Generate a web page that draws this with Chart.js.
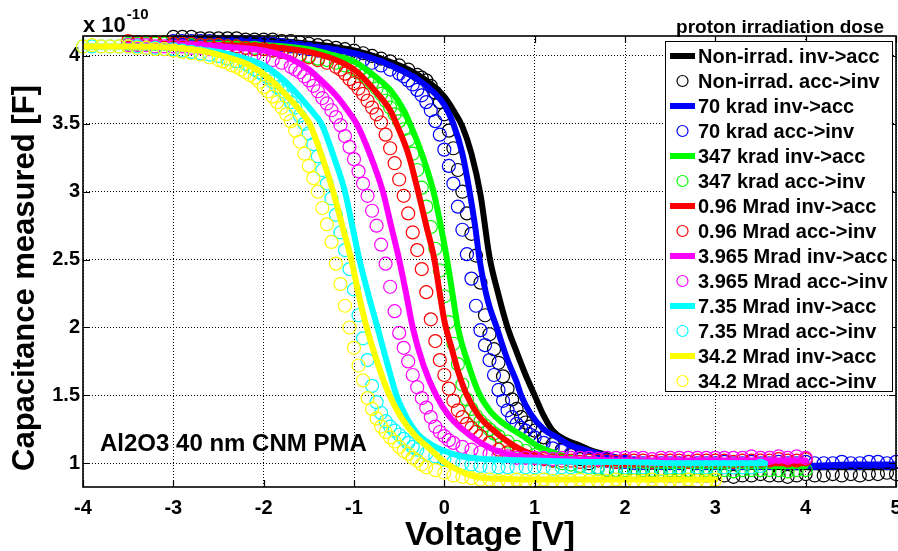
<!DOCTYPE html>
<html><head><meta charset="utf-8">
<script src="https://cdn.jsdelivr.net/npm/chart.js@4.4.1/dist/chart.umd.min.js"></script>
<style>html,body{margin:0;padding:0;background:#fff;}canvas{display:block;}</style>
</head><body>
<canvas id="c" width="898" height="551"></canvas>
<script>
// ---- tick labels ----
const xTicks = [-4,-3,-2,-1,0,1,2,3,4,5];
const yTicks = [1,1.5,2,2.5,3,3.5,4];
const yTickLabels = ['1','1.5','2','2.5','3','3.5','4'];

// ---- categories ----
const doseLabels = ['Non-irrad.','70 krad','347 krad','0.96 Mrad','3.965 Mrad','7.35 Mrad','34.2 Mrad'];
const doseColors = ['#000000','#0000ff','#00ff00','#ff0000','#ff00ff','#00ffff','#ffff00'];

// ---- inv->acc sweeps (voltage V, capacitance x1e-10 F) ----
const invNon = [[-3,4.13],[-2.5,4.13],[-2,4.12],[-1.5,4.09],[-1,4.04],[-0.7,3.98],[-0.4,3.90],[-0.2,3.82],[0,3.70],[0.1,3.60],[0.2,3.48],[0.3,3.28],[0.4,2.98],[0.5,2.52],[0.6,2.24],[0.7,2.0],[0.8,1.82],[0.9,1.65],[1.0,1.5],[1.1,1.35],[1.2,1.24],[1.35,1.17],[1.5,1.13],[1.6,1.10],[1.8,1.06],[2.0,1.03],[2.3,1.01],[2.7,0.99],[3.2,0.98],[4,0.97],[5,0.97]];
const invBlue = [[-3,4.11],[-2.5,4.11],[-2,4.10],[-1.5,4.07],[-1,4.02],[-0.7,3.96],[-0.5,3.90],[-0.3,3.83],[-0.1,3.72],[0,3.64],[0.1,3.50],[0.2,3.28],[0.28,3.0],[0.34,2.75],[0.39,2.5],[0.48,2.2],[0.58,2.0],[0.7,1.76],[0.8,1.6],[0.85,1.5],[0.95,1.37],[1.1,1.25],[1.25,1.19],[1.4,1.13],[1.55,1.10],[1.7,1.07],[1.9,1.04],[2.2,1.01],[2.6,0.99],[3,0.98],[3.5,0.98],[4,0.98],[4.5,0.99],[5,0.99]];
const invGreen = [[-3.5,4.09],[-3,4.09],[-2.5,4.09],[-2,4.08],[-1.5,4.05],[-1.2,4.0],[-1,3.96],[-0.75,3.84],[-0.6,3.75],[-0.45,3.6],[-0.38,3.5],[-0.25,3.28],[-0.12,3.0],[-0.04,2.75],[0.03,2.5],[0.09,2.25],[0.15,2.0],[0.27,1.72],[0.38,1.52],[0.5,1.39],[0.62,1.31],[0.75,1.25],[0.87,1.2],[1.0,1.14],[1.2,1.08],[1.4,1.04],[1.7,1.01],[2.0,0.99],[2.5,0.98],[3,0.98],[3.5,0.98],[4,0.98]];
const invRed = [[-3.5,4.09],[-3,4.09],[-2.5,4.08],[-2,4.07],[-1.5,4.03],[-1.2,3.97],[-1.0,3.9],[-0.9,3.84],[-0.75,3.73],[-0.6,3.6],[-0.53,3.5],[-0.4,3.28],[-0.29,3.0],[-0.2,2.75],[-0.11,2.5],[-0.05,2.25],[0,2.05],[0.08,1.85],[0.16,1.66],[0.25,1.5],[0.38,1.35],[0.53,1.25],[0.7,1.16],[0.85,1.1],[1.0,1.06],[1.2,1.03],[1.5,1.01],[2,1.0],[2.5,1.0],[3,1.0],[3.5,1.0],[4,1.0]];
const invMag = [[-3.5,4.08],[-3,4.08],[-2.5,4.07],[-2,4.04],[-1.7,3.98],[-1.5,3.9],[-1.38,3.83],[-1.2,3.71],[-1.05,3.58],[-0.97,3.5],[-0.82,3.27],[-0.68,3.0],[-0.59,2.75],[-0.5,2.5],[-0.42,2.24],[-0.35,2.0],[-0.23,1.72],[-0.09,1.5],[0.05,1.35],[0.2,1.25],[0.38,1.16],[0.55,1.1],[0.75,1.06],[1.0,1.04],[1.4,1.03],[2,1.02],[2.5,1.02],[3,1.02],[3.5,1.02],[4,1.02]];
const invCyan = [[-4,4.07],[-3.5,4.07],[-3,4.06],[-2.5,4.03],[-2.2,3.98],[-2,3.93],[-1.79,3.83],[-1.6,3.7],[-1.45,3.58],[-1.36,3.5],[-1.22,3.25],[-1.1,3.0],[-1.02,2.75],[-0.94,2.5],[-0.84,2.24],[-0.74,2.0],[-0.63,1.73],[-0.53,1.5],[-0.42,1.34],[-0.3,1.22],[-0.15,1.14],[0,1.09],[0.2,1.05],[0.5,1.03],[1,1.02],[1.5,1.01],[2,1.01],[2.5,1.0],[3,1.0],[3.55,1.0]];
const invYellow = [[-4,4.07],[-3.5,4.07],[-3,4.06],[-2.7,4.04],[-2.4,3.99],[-2.15,3.93],[-1.93,3.83],[-1.75,3.71],[-1.6,3.6],[-1.49,3.5],[-1.35,3.25],[-1.23,3.0],[-1.13,2.75],[-1.03,2.5],[-0.95,2.25],[-0.86,2.0],[-0.74,1.74],[-0.62,1.52],[-0.48,1.34],[-0.32,1.2],[-0.15,1.1],[0,1.01],[0.15,0.95],[0.35,0.9],[0.6,0.885],[1,0.88],[1.5,0.88],[2,0.88],[2.5,0.88],[3,0.88]];

// ---- acc->inv sweeps ----
const accNon = [[-3.0,4.14],[-2.9,4.14],[-2.8,4.14],[-2.7,4.13],[-2.6,4.13],[-2.5,4.13],[-2.4,4.13],[-2.3,4.13],[-2.2,4.12],[-2.1,4.12],[-2.0,4.12],[-1.9,4.12],[-1.8,4.11],[-1.7,4.11],[-1.6,4.10],[-1.5,4.09],[-1.4,4.08],[-1.3,4.07],[-1.2,4.06],[-1.1,4.05],[-1.0,4.04],[-0.9,4.02],[-0.8,4.00],[-0.7,3.98],[-0.6,3.96],[-0.5,3.93],[-0.4,3.90],[-0.3,3.86],
[-0.25,3.84],[-0.2,3.82],[-0.15,3.78],[-0.1,3.73],[-0.05,3.66],[0,3.57],[0.05,3.45],[0.1,3.32],[0.15,3.16],[0.2,3.0],[0.25,2.84],[0.3,2.69],[0.35,2.53],[0.4,2.33],[0.45,2.09],[0.5,1.95],[0.55,1.84],[0.6,1.74],[0.65,1.64],[0.7,1.55],[0.75,1.47],[0.8,1.40],[0.85,1.34],[0.9,1.30],[0.95,1.27],[1.0,1.24],
[1.1,1.19],[1.2,1.14],[1.3,1.10],[1.4,1.06],[1.5,1.03],[1.6,1.00],[1.7,0.97],[1.8,0.95],[1.9,0.94],[2.0,0.93],[2.1,0.92],[2.2,0.92],[2.3,0.91],[2.4,0.92],[2.5,0.91],[2.6,0.91],[2.7,0.92],[2.8,0.91],[2.9,0.91],[3.0,0.92],[3.1,0.91],[3.2,0.90],[3.3,0.91],[3.4,0.91],[3.5,0.92],[3.6,0.91],[3.7,0.91],[3.8,0.90],[3.9,0.91],[4.0,0.92],[4.1,0.91],[4.2,0.91],[4.3,0.92],[4.4,0.91],[4.5,0.92],[4.6,0.91],[4.7,0.92],[4.8,0.92],[4.9,0.93],[5.0,0.92]];
const accBlue = [[-3.0,4.11],[-2.9,4.11],[-2.8,4.11],[-2.7,4.11],[-2.6,4.11],[-2.5,4.10],[-2.4,4.10],[-2.3,4.10],[-2.2,4.10],[-2.1,4.10],[-2.0,4.09],[-1.9,4.09],[-1.8,4.08],[-1.7,4.07],[-1.6,4.06],[-1.5,4.05],[-1.4,4.04],[-1.3,4.03],[-1.2,4.02],[-1.1,4.00],[-1.0,3.99],[-0.9,3.97],[-0.8,3.95],[-0.7,3.93],[-0.6,3.90],[-0.5,3.87],
[-0.45,3.85],[-0.4,3.82],[-0.35,3.79],[-0.3,3.75],[-0.25,3.71],[-0.2,3.66],[-0.15,3.60],[-0.1,3.52],[-0.05,3.42],[0,3.31],[0.05,3.19],[0.1,3.06],[0.15,2.89],[0.2,2.72],[0.25,2.54],[0.3,2.36],[0.35,2.16],[0.4,1.98],[0.45,1.87],[0.5,1.76],[0.55,1.65],[0.6,1.54],[0.65,1.46],[0.7,1.39],[0.75,1.34],[0.8,1.29],[0.85,1.26],[0.9,1.24],[0.95,1.21],[1.0,1.19],
[1.1,1.15],[1.2,1.11],[1.3,1.09],[1.4,1.07],[1.5,1.05],[1.6,1.04],[1.7,1.03],[1.8,1.02],[1.9,1.01],[2.0,1.01],[2.1,1.00],[2.2,1.00],[2.3,1.01],[2.4,1.00],[2.5,1.00],[2.6,1.00],[2.7,1.01],[2.8,1.00],[2.9,1.00],[3.0,1.00],[3.1,1.01],[3.2,1.00],[3.3,1.00],[3.4,1.01],[3.5,1.00],[3.6,1.00],[3.7,1.01],[3.8,1.00],[3.9,1.00],[4.0,1.01],[4.1,1.00],[4.2,1.00],[4.3,1.00],[4.4,1.01],[4.5,1.00],[4.6,1.00],[4.7,1.01],[4.8,1.01],[4.9,1.00],[5.0,1.01]];
const accGreen = [[-3.5,4.09],[-3.4,4.09],[-3.3,4.09],[-3.2,4.09],[-3.1,4.09],[-3.0,4.09],[-2.9,4.09],[-2.8,4.08],[-2.7,4.08],[-2.6,4.08],[-2.5,4.08],[-2.4,4.07],[-2.3,4.07],[-2.2,4.06],[-2.1,4.06],[-2.0,4.05],[-1.9,4.04],[-1.8,4.03],[-1.7,4.02],[-1.6,4.01],[-1.5,4.00],[-1.4,3.98],[-1.3,3.97],[-1.2,3.95],[-1.1,3.93],[-1.0,3.90],
[-0.95,3.88],[-0.9,3.86],[-0.85,3.83],[-0.8,3.80],[-0.75,3.76],[-0.7,3.72],[-0.65,3.67],[-0.6,3.62],[-0.55,3.57],[-0.5,3.52],[-0.45,3.46],[-0.4,3.38],[-0.35,3.28],[-0.3,3.16],[-0.25,3.03],[-0.2,2.89],[-0.15,2.74],[-0.1,2.58],[-0.05,2.42],[0,2.23],[0.05,2.04],[0.1,1.88],[0.15,1.73],[0.2,1.58],[0.25,1.47],[0.3,1.40],[0.35,1.35],[0.4,1.31],[0.45,1.28],[0.5,1.25],[0.55,1.22],[0.6,1.20],
[0.7,1.16],[0.8,1.12],[0.9,1.09],[1.0,1.06],[1.1,1.04],[1.2,1.02],[1.3,1.00],[1.4,0.99],[1.5,0.98],[1.6,0.97],[1.7,0.96],[1.8,0.95],[1.9,0.95],[2.0,0.95],[2.1,0.94],[2.2,0.95],[2.3,0.95],[2.4,0.94],[2.5,0.95],[2.6,0.95],[2.7,0.95],[2.8,0.94],[2.9,0.95],[3.0,0.95],[3.1,0.95],[3.2,0.94],[3.3,0.95],[3.4,0.95],[3.5,0.95],[3.6,0.95],[3.7,0.95],[3.8,0.94],[3.9,0.95],[4.0,0.95]];
const accRed = [[-3.5,4.11],[-3.4,4.10],[-3.3,4.10],[-3.2,4.10],[-3.1,4.10],[-3.0,4.09],[-2.9,4.09],[-2.8,4.09],[-2.7,4.08],[-2.6,4.08],[-2.5,4.08],[-2.4,4.07],[-2.3,4.07],[-2.2,4.06],[-2.1,4.05],[-2.0,4.05],[-1.9,4.04],[-1.8,4.03],[-1.7,4.02],[-1.6,4.00],[-1.5,3.99],[-1.4,3.97],[-1.3,3.95],[-1.2,3.92],
[-1.15,3.90],[-1.1,3.87],[-1.05,3.83],[-1.0,3.80],[-0.95,3.76],[-0.9,3.72],[-0.85,3.67],[-0.8,3.62],[-0.75,3.57],[-0.7,3.51],[-0.65,3.42],[-0.6,3.32],[-0.55,3.21],[-0.5,3.09],[-0.45,2.97],[-0.4,2.84],[-0.35,2.70],[-0.3,2.57],[-0.25,2.43],[-0.2,2.26],[-0.15,2.06],[-0.1,1.90],[-0.05,1.76],[0,1.65],[0.05,1.55],[0.1,1.46],[0.15,1.39],[0.2,1.34],[0.25,1.29],[0.3,1.26],[0.35,1.23],[0.4,1.20],
[0.5,1.15],[0.6,1.10],[0.7,1.08],[0.8,1.06],[0.9,1.05],[1.0,1.04],[1.1,1.03],[1.2,1.02],[1.3,1.02],[1.4,1.02],[1.5,1.01],[1.6,1.02],[1.7,1.02],[1.8,1.02],[1.9,1.01],[2.0,1.02],[2.1,1.02],[2.2,1.02],[2.3,1.01],[2.4,1.02],[2.5,1.02],[2.6,1.02],[2.7,1.01],[2.8,1.02],[2.9,1.02],[3.0,1.02],[3.1,1.02],[3.2,1.01],[3.3,1.02],[3.4,1.02],[3.5,1.02],[3.6,1.02],[3.7,1.03],[3.8,1.02],[3.9,1.02],[4.0,1.03]];
const accMag = [[-3.5,4.08],[-3.4,4.08],[-3.3,4.08],[-3.2,4.07],[-3.1,4.07],[-3.0,4.07],[-2.9,4.07],[-2.8,4.06],[-2.7,4.06],[-2.6,4.05],[-2.5,4.05],[-2.4,4.04],[-2.3,4.03],[-2.2,4.02],[-2.1,4.01],[-2.0,3.99],[-1.9,3.97],[-1.8,3.95],[-1.7,3.92],
[-1.65,3.90],[-1.6,3.88],[-1.55,3.85],[-1.5,3.82],[-1.45,3.78],[-1.4,3.74],[-1.35,3.69],[-1.3,3.65],[-1.25,3.60],[-1.2,3.55],[-1.15,3.49],[-1.1,3.41],[-1.05,3.33],[-1.0,3.24],[-0.95,3.15],[-0.9,3.06],[-0.85,2.97],[-0.8,2.86],[-0.75,2.75],[-0.7,2.61],[-0.65,2.47],[-0.6,2.30],[-0.55,2.12],[-0.5,1.96],[-0.45,1.85],[-0.4,1.75],[-0.35,1.65],[-0.3,1.56],[-0.25,1.48],[-0.2,1.41],[-0.15,1.34],[-0.1,1.27],[-0.05,1.23],[0,1.20],[0.05,1.17],[0.1,1.15],
[0.2,1.12],[0.3,1.10],[0.4,1.08],[0.5,1.07],[0.6,1.06],[0.7,1.05],[0.8,1.04],[0.9,1.04],[1.0,1.04],[1.1,1.04],[1.2,1.03],[1.3,1.04],[1.4,1.04],[1.5,1.04],[1.6,1.04],[1.7,1.03],[1.8,1.04],[1.9,1.04],[2.0,1.04],[2.1,1.04],[2.2,1.04],[2.3,1.03],[2.4,1.04],[2.5,1.04],[2.6,1.04],[2.7,1.04],[2.8,1.04],[2.9,1.04],[3.0,1.04],[3.1,1.04],[3.2,1.04],[3.3,1.04],[3.4,1.05],[3.5,1.04],[3.6,1.04],[3.7,1.05],[3.8,1.04],[3.9,1.05],[4.0,1.04]];
const accCyan = [[-4.0,4.07],[-3.9,4.07],[-3.8,4.07],[-3.7,4.07],[-3.6,4.07],[-3.5,4.07],[-3.4,4.07],[-3.3,4.06],[-3.2,4.06],[-3.1,4.05],[-3.0,4.05],[-2.9,4.04],[-2.8,4.03],[-2.7,4.02],[-2.6,4.01],[-2.5,4.00],[-2.4,3.98],[-2.3,3.96],[-2.2,3.94],
[-2.15,3.92],[-2.1,3.90],[-2.05,3.88],[-2.0,3.86],[-1.95,3.84],[-1.9,3.81],[-1.85,3.77],[-1.8,3.74],[-1.75,3.70],[-1.7,3.66],[-1.65,3.62],[-1.6,3.56],[-1.55,3.50],[-1.5,3.43],[-1.45,3.35],[-1.4,3.26],[-1.35,3.16],[-1.3,3.06],[-1.25,2.95],[-1.2,2.83],[-1.15,2.70],[-1.1,2.57],[-1.05,2.43],[-1.0,2.28],[-0.95,2.09],[-0.9,1.92],[-0.85,1.76],[-0.8,1.57],[-0.75,1.45],[-0.7,1.37],[-0.65,1.31],[-0.6,1.27],[-0.55,1.24],[-0.5,1.21],[-0.45,1.18],[-0.4,1.15],[-0.35,1.12],[-0.3,1.10],
[-0.2,1.07],[-0.1,1.05],[0,1.03],[0.1,1.01],[0.2,1.00],[0.3,0.99],[0.4,0.98],[0.5,0.97],[0.6,0.97],[0.7,0.97],[0.8,0.97],[0.9,0.97],[1.0,0.97],[1.1,0.97],[1.2,0.96],[1.3,0.97],[1.4,0.97],[1.5,0.97],[1.6,0.97],[1.7,0.97],[1.8,0.96],[1.9,0.97],[2.0,0.97],[2.1,0.97],[2.2,0.97],[2.3,0.97],[2.4,0.96],[2.5,0.97],[2.6,0.97],[2.7,0.97],[2.8,0.97],[2.9,0.97],[3.0,0.97],[3.1,0.97],[3.2,0.97],[3.3,0.97],[3.4,0.97],[3.5,0.98]];
const accYellow = [[-4.0,4.07],[-3.9,4.08],[-3.8,4.07],[-3.7,4.07],[-3.6,4.07],[-3.5,4.07],[-3.4,4.06],[-3.3,4.06],[-3.2,4.05],[-3.1,4.05],[-3.0,4.04],[-2.9,4.03],[-2.8,4.02],[-2.7,4.01],[-2.6,3.99],[-2.5,3.97],
[-2.45,3.96],[-2.4,3.95],[-2.35,3.93],[-2.3,3.92],[-2.25,3.90],[-2.2,3.88],[-2.15,3.86],[-2.1,3.84],[-2.05,3.81],[-2.0,3.77],[-1.95,3.74],[-1.9,3.70],[-1.85,3.66],[-1.8,3.62],[-1.75,3.57],[-1.7,3.52],[-1.65,3.45],[-1.6,3.37],[-1.55,3.28],[-1.5,3.19],[-1.45,3.10],[-1.4,3.00],[-1.35,2.88],[-1.3,2.76],[-1.25,2.63],[-1.2,2.47],[-1.15,2.32],[-1.1,2.16],[-1.05,2.00],[-1.0,1.85],[-0.95,1.72],[-0.9,1.61],[-0.85,1.48],[-0.8,1.40],[-0.75,1.33],[-0.7,1.27],[-0.65,1.23],[-0.6,1.19],[-0.55,1.16],[-0.5,1.12],[-0.45,1.09],[-0.4,1.07],[-0.35,1.04],[-0.3,1.02],[-0.25,0.99],[-0.2,0.97],
[-0.1,0.95],[0,0.93],[0.1,0.91],[0.2,0.90],[0.3,0.89],[0.4,0.88],[0.5,0.88],[0.6,0.87],[0.7,0.87],[0.8,0.88],[0.9,0.87],[1.0,0.87],[1.1,0.88],[1.2,0.87],[1.3,0.87],[1.4,0.87],[1.5,0.88],[1.6,0.87],[1.7,0.87],[1.8,0.87],[1.9,0.88],[2.0,0.87],[2.1,0.87],[2.2,0.87],[2.3,0.88],[2.4,0.87],[2.5,0.87],[2.6,0.87],[2.7,0.88],[2.8,0.87],[2.9,0.87],[3.0,0.88]];

const invSeries = [invNon, invBlue, invGreen, invRed, invMag, invCyan, invYellow];
const accSeries = [accNon, accBlue, accGreen, accRed, accMag, accCyan, accYellow];

const FONT = '"Liberation Sans", Arial, Helvetica, sans-serif';
const toXY = arr => arr.map(p => ({x: p[0], y: p[1]}));

const datasets = [];
const N = doseLabels.length;
for (let i = 0; i < N; i++) {
  datasets.push({
    label: doseLabels[i] + ' inv->acc',
    data: toXY(invSeries[i]),
    showLine: true,
    borderColor: doseColors[i],
    backgroundColor: doseColors[i],
    borderWidth: 6,
    pointRadius: 0,
    pointHoverRadius: 0,
    cubicInterpolationMode: 'monotone',
    borderCapStyle: 'round',
    borderJoinStyle: 'round',
    fill: false,
    order: 2 * N - 2 * i
  });
  datasets.push({
    label: doseLabels[i] + ' acc->inv',
    data: toXY(accSeries[i]),
    showLine: false,
    pointStyle: 'circle',
    pointRadius: 6.5,
    pointHoverRadius: 6.5,
    pointBorderWidth: 1.2,
    pointBorderColor: doseColors[i],
    pointBackgroundColor: 'rgba(0,0,0,0)',
    borderColor: doseColors[i],
    clip: false,
    order: 2 * N - 2 * i - 1
  });
}

const PLOT_RIGHT = 896;

const framePlugin = {
  id: 'frame',
  afterLayout(chart) {
    // stretch the plot area so that its right edge sits where the reference's does
    const x = chart.scales.x;
    const d = PLOT_RIGHT - chart.chartArea.right;
    if (d !== 0) {
      chart.chartArea.right += d;
      chart.chartArea.width = chart.chartArea.right - chart.chartArea.left;
      x.right += d;
      x.width += d;
      x.configure();
    }
  },
  afterDatasetsDraw(chart) {
    const {ctx, chartArea: a, scales: {x, y}} = chart;
    ctx.save();
    ctx.strokeStyle = '#000';
    ctx.lineWidth = 1.6;
    ctx.strokeRect(a.left, a.top, a.right - a.left, a.bottom - a.top);
    ctx.lineWidth = 1.2;
    ctx.beginPath();
    const tl = 7;
    xTicks.forEach(v => {
      const px = Math.round(x.getPixelForValue(v)) + 0.5;
      ctx.moveTo(px, a.bottom); ctx.lineTo(px, a.bottom - tl);
      ctx.moveTo(px, a.top); ctx.lineTo(px, a.top + tl);
    });
    yTicks.forEach(v => {
      const py = Math.round(y.getPixelForValue(v)) + 0.5;
      ctx.moveTo(a.left, py); ctx.lineTo(a.left + tl, py);
      ctx.moveTo(a.right, py); ctx.lineTo(a.right - tl, py);
    });
    ctx.stroke();
    ctx.restore();
  },
  afterDraw(chart) {
    const ctx = chart.ctx;
    const a = chart.chartArea;
    ctx.save();
    // exponent label
    ctx.fillStyle = '#000';
    ctx.textBaseline = 'alphabetic';
    ctx.textAlign = 'left';
    ctx.font = 'bold 22px ' + FONT;
    ctx.fillText('x 10', a.left, 32);
    const w = ctx.measureText('x 10').width;
    ctx.font = 'bold 15px ' + FONT;
    ctx.fillText('-10', a.left + w + 1, 19);
    // axis titles
    ctx.font = 'bold 33px ' + FONT;
    ctx.textAlign = 'center';
    ctx.fillText('Voltage [V]', 490, 545);
    ctx.save();
    ctx.translate(34, 278);
    ctx.rotate(-Math.PI / 2);
    ctx.font = 'bold 31px ' + FONT;
    ctx.fillText('Capacitance measured [F]', 0, 0);
    ctx.restore();
    // annotation
    ctx.textAlign = 'left';
    ctx.font = 'bold 24px ' + FONT;
    ctx.fillText('Al2O3 40 nm CNM PMA', 100, 451);
    // legend title
    ctx.textAlign = 'center';
    ctx.font = 'bold 19px ' + FONT;
    ctx.fillText('proton irradiation dose', 780, 33);
    // legend box
    const bx = 665, by = 41, bw = 227, bh = 350;
    ctx.fillStyle = '#fff';
    ctx.fillRect(bx, by, bw, bh);
    ctx.strokeStyle = '#000';
    ctx.lineWidth = 1;
    ctx.strokeRect(bx + 0.5, by + 0.5, bw, bh);
    ctx.textAlign = 'left';
    ctx.textBaseline = 'middle';
    ctx.font = 'bold 20px ' + FONT;
    chart.data.datasets.forEach((ds, i) => {
      const yy = 56 + 25 * i;
      if (ds.showLine) {
        ctx.strokeStyle = ds.borderColor;
        ctx.lineWidth = 6;
        ctx.beginPath(); ctx.moveTo(670, yy); ctx.lineTo(695, yy); ctx.stroke();
      } else {
        ctx.strokeStyle = ds.pointBorderColor;
        ctx.lineWidth = 1.2;
        ctx.beginPath(); ctx.arc(682.5, yy, 5.5, 0, Math.PI * 2); ctx.stroke();
      }
      ctx.fillStyle = '#000';
      ctx.fillText(ds.label, 698, yy + 1);
    });
    ctx.restore();
  }
};

new Chart(document.getElementById('c'), {
  type: 'scatter',
  data: {datasets},
  options: {
    responsive: false,
    animation: false,
    devicePixelRatio: 1,
    layout: {padding: {top: 36, right: 2, left: 0, bottom: 0}},
    plugins: {legend: {display: false}, tooltip: {enabled: false}, title: {display: false}},
    scales: {
      x: {
        type: 'linear', min: -4, max: 5,
        afterBuildTicks: s => { s.ticks = xTicks.map(v => ({value: v})); },
        afterFit: s => { s.height = 64; },
        ticks: {color: '#000', padding: 9, maxRotation: 0, autoSkip: false,
          font: {family: FONT, size: 20, weight: 'bold'}, callback: v => String(v)},
        grid: {color: '#000', lineWidth: 1, drawTicks: false},
        border: {display: false, dash: [1, 2]}
      },
      y: {
        type: 'linear', min: 0.825, max: 4.147,
        afterBuildTicks: s => { s.ticks = yTicks.map(v => ({value: v})); },
        afterFit: s => { s.width = 83; },
        ticks: {color: '#000', padding: 3, autoSkip: false,
          font: {family: FONT, size: 20, weight: 'bold'},
          callback: v => { const k = yTicks.indexOf(v); return k >= 0 ? yTickLabels[k] : ''; }},
        grid: {color: '#000', lineWidth: 1, drawTicks: false},
        border: {display: false, dash: [1, 2]}
      }
    }
  },
  plugins: [framePlugin]
});
</script>
</body></html>
